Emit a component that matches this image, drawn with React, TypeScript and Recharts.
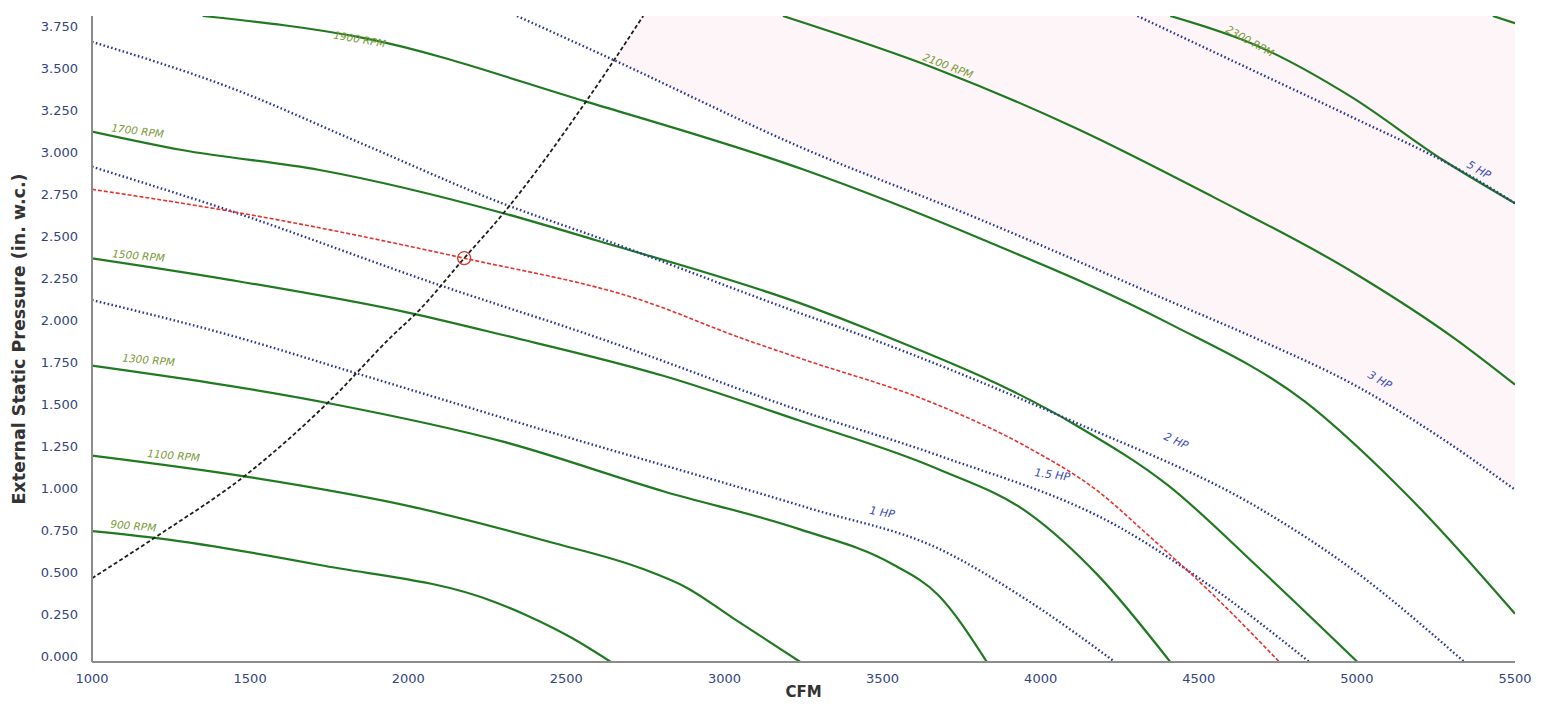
import React from "react";
import { ComposedChart, Line, Area, XAxis, YAxis, ReferenceDot } from "recharts";

type Pt = { cfm: number; esp: number };
const toPts = (rows: number[][]): Pt[] => rows.map(([cfm, esp]) => ({ cfm, esp }));

const cfmTicks = [1000, 1500, 2000, 2500, 3000, 3500, 4000, 4500, 5000, 5500];
const espTicks = [0, 0.25, 0.5, 0.75, 1, 1.25, 1.5, 1.75, 2, 2.25, 2.5, 2.75, 3, 3.25, 3.5, 3.75];

// fan speed curves (cfm, esp)
const rpm900 = toPts([[1000, 0.76], [1211, 0.718], [1720, 0.563], [2271, 0.35], [2372, 0.273], [2518, 0.139], [2641, 0]]);
const rpm1100 = toPts([[1000, 1.198], [1487, 1.076], [2010, 0.902], [2445, 0.698], [2736, 0.544], [2882, 0.43], [3027, 0.255], [3240, 0]]);
const rpm1300 = toPts([[1000, 1.72], [1749, 1.502], [2300, 1.279], [2809, 0.99], [3239, 0.77], [3529, 0.57], [3675, 0.39], [3830, 0]]);
const rpm1500 = toPts([[1000, 2.343], [1430, 2.22], [2010, 2.024], [2300, 1.898], [2809, 1.66], [3239, 1.4], [3675, 1.12], [3965, 0.86], [4183, 0.5], [4410, 0]]);
const rpm1700 = toPts([[1000, 3.079], [1284, 2.972], [1720, 2.856], [2301, 2.605], [2591, 2.45], [3269, 2.063], [3471, 1.92], [4110, 1.376], [4401, 1.028], [4691, 0.544], [5002, 0]]);
const rpm1900 = toPts([[1350, 3.75], [1865, 3.62], [2562, 3.253], [3254, 2.856], [3820, 2.45], [4401, 1.97], [4836, 1.511], [5127, 1.028], [5500, 0.28]]);
const rpm2100 = toPts([[3185, 3.75], [3675, 3.44], [4110, 3.1], [4545, 2.7], [4981, 2.27], [5315, 1.87], [5500, 1.61]]);
const rpm2300 = toPts([[4410, 3.75], [4691, 3.572], [4981, 3.282], [5272, 2.914], [5500, 2.663]]);
const rpm2500 = toPts([[5430, 3.75], [5500, 3.708]]);

// brake horsepower lines
const hp1 = toPts([[1000, 2.101], [1450, 1.89], [1836, 1.676], [2445, 1.337], [3269, 0.892], [3675, 0.66], [3965, 0.35], [4235, 0]]);
const hp15 = toPts([[1000, 2.875], [1429, 2.624], [2097, 2.189], [2591, 1.888], [3239, 1.46], [3675, 1.2], [4255, 0.776], [4546, 0.428], [4850, 0]]);
const hp2 = toPts([[1000, 3.6], [1429, 3.34], [1865, 3.0], [2301, 2.66], [2591, 2.47], [3269, 2.005], [3384, 1.93], [4110, 1.39], [4691, 0.892], [4981, 0.544], [5340, 0]]);
const hp3 = toPts([[2344, 3.75], [2649, 3.495], [3239, 2.99], [3820, 2.56], [4401, 2.1], [4691, 1.87], [5000, 1.6], [5250, 1.32], [5500, 1.0]]);
const hp5 = toPts([[4306, 3.75], [4691, 3.417], [4981, 3.166], [5344, 2.837], [5500, 2.663]]);

// selected fan curve and system curve
const fanCurve = toPts([[1000, 2.744], [1473, 2.605], [2177, 2.344], [2736, 2.101], [3055, 1.879], [3239, 1.763], [3675, 1.492], [3965, 1.24], [4183, 0.989], [4328, 0.756], [4546, 0.389], [4755, 0]]);
const systemCurve = toPts([[1000, 0.486], [1211, 0.737], [1487, 1.086], [1749, 1.511], [1952, 1.898], [2025, 2.024], [2177, 2.344], [2301, 2.605], [2562, 3.253], [2743, 3.75]]);
const operatingPoint = { cfm: 2177, esp: 2.344 };

// shaded zone: above 3 HP, right of the system curve
const zoneLow = [[2649, 3.495], [2700, 3.45], [2743, 3.41], [3239, 2.99], [3820, 2.56], [4401, 2.1], [4691, 1.87], [5000, 1.6], [5250, 1.32], [5500, 1.0]];
const zoneHigh = [3.495, 3.63, 3.75, 3.75, 3.75, 3.75, 3.75, 3.75, 3.75, 3.75];
const zone = zoneLow.map(([cfm, lo], i) => ({ cfm, range: [lo, zoneHigh[i]] }));

const curveLabels = [
  { text: "900 RPM", cfm: 1057, esp: 0.78, angle: 5, kind: "rpm" },
  { text: "1100 RPM", cfm: 1174, esp: 1.19, angle: 5, kind: "rpm" },
  { text: "1300 RPM", cfm: 1095, esp: 1.745, angle: 5, kind: "rpm" },
  { text: "1500 RPM", cfm: 1063, esp: 2.35, angle: 5, kind: "rpm" },
  { text: "1700 RPM", cfm: 1060, esp: 3.08, angle: 7, kind: "rpm" },
  { text: "1900 RPM", cfm: 1762, esp: 3.62, angle: 10, kind: "rpm" },
  { text: "2100 RPM", cfm: 3625, esp: 3.495, angle: 21, kind: "rpm" },
  { text: "2300 RPM", cfm: 4583, esp: 3.66, angle: 29, kind: "rpm" },
  { text: "1 HP", cfm: 3457, esp: 0.86, angle: 10, kind: "hp" },
  { text: "1.5 HP", cfm: 3979, esp: 1.08, angle: 8, kind: "hp" },
  { text: "2 HP", cfm: 4387, esp: 1.295, angle: 25, kind: "hp" },
  { text: "3 HP", cfm: 5032, esp: 1.655, angle: 30, kind: "hp" },
  { text: "5 HP", cfm: 5345, esp: 2.875, angle: 30, kind: "hp" },
];

const rpmCurves = [rpm900, rpm1100, rpm1300, rpm1500, rpm1700, rpm1900, rpm2100, rpm2300, rpm2500];
const hpCurves = [hp1, hp15, hp2, hp3, hp5];

const FONT = "'DejaVu Sans', Verdana, sans-serif";
const GREEN = "#217a21";
const BLUE = "#2c3a96";
const FRAME = "#8c8c8c";
const TICK = "#34457f";

// the original prints its pressure labels a little off the tick positions
const EspTick = (props: any) => {
  const { x, y, payload } = props;
  const shift = -6 + payload.value * 4.3;
  return (
    <text x={x} y={y + shift} dy={4.5} textAnchor="end" fill={TICK} fontSize={13} fontFamily={FONT}>
      {Number(payload.value).toFixed(3)}
    </text>
  );
};

export default function App() {
  return (
    <div style={{ position: "absolute", left: 0, top: 0, width: 1545, height: 706, background: "#fff" }}>
      <ComposedChart width={1545} height={706} margin={{ top: 16, right: 30, bottom: 0, left: 0 }}>
        <XAxis
          dataKey="cfm"
          type="number"
          domain={[1000, 5500]}
          ticks={cfmTicks}
          allowDataOverflow
          height={44}
          tickLine={false}
          tickMargin={6}
          axisLine={{ stroke: FRAME, strokeWidth: 2 }}
          tick={{ fill: TICK, fontSize: 13, fontFamily: FONT }}
          label={{ value: "CFM", position: "insideBottom", offset: 9, style: { fontFamily: FONT, fontWeight: "bold", fontSize: 15, fill: "#333" } }}
        />
        <XAxis xAxisId="top" orientation="top" type="number" domain={[1000, 5500]} height={0} tick={false} tickLine={false} axisLine={{ stroke: FRAME, strokeWidth: 2 }} />
        <YAxis
          type="number"
          domain={[0, 3.75]}
          ticks={espTicks}
          allowDataOverflow
          width={92}
          tickLine={false}
          tickMargin={8}
          axisLine={{ stroke: FRAME, strokeWidth: 2 }}
          tick={<EspTick />}
          label={{
            value: "External Static Pressure (in. w.c.)",
            angle: -90,
            position: "insideLeft",
            offset: 19,
            style: { textAnchor: "middle", fontFamily: FONT, fontWeight: "bold", fontSize: 17.5, fill: "#333" },
          }}
        />
        <YAxis yAxisId="right" orientation="right" type="number" domain={[0, 3.75]} width={0} tick={false} tickLine={false} axisLine={{ stroke: FRAME, strokeWidth: 2 }} />

        <Area data={zone} dataKey="range" type="monotone" stroke="none" fill="#fdf5f8" fillOpacity={1} isAnimationActive={false} />

        {rpmCurves.map((d, i) => (
          <Line key={"rpm" + i} data={d} dataKey="esp" type="monotone" stroke={GREEN} strokeWidth={2.2} dot={false} isAnimationActive={false} />
        ))}
        {hpCurves.map((d, i) => (
          <Line key={"hp" + i} data={d} dataKey="esp" type="monotone" stroke={BLUE} strokeWidth={2.4} strokeDasharray="1.6 2.4" dot={false} isAnimationActive={false} />
        ))}
        <Line data={fanCurve} dataKey="esp" type="monotone" stroke="#e8322b" strokeWidth={1.6} strokeDasharray="4 2" dot={false} isAnimationActive={false} />
        <Line data={systemCurve} dataKey="esp" type="monotone" stroke="#1e1e1e" strokeWidth={1.8} strokeDasharray="4 2.5" dot={false} isAnimationActive={false} />

        <ReferenceDot x={operatingPoint.cfm} y={operatingPoint.esp} r={6.5} fill="none" stroke="#d9362c" strokeWidth={1.3} />

        {curveLabels.map((l) => (
          <ReferenceDot
            key={l.text}
            x={l.cfm}
            y={l.esp}
            r={0}
            shape={(p: any) => (
              <text
                x={p.cx}
                y={p.cy}
                transform={`rotate(${l.angle} ${p.cx} ${p.cy})`}
                fontFamily={FONT}
                fontStyle="italic"
                fontSize={l.kind === "rpm" ? 10.5 : 11}
                fill={l.kind === "rpm" ? "#7a9a38" : "#3a4cb4"}
              >
                {l.text}
              </text>
            )}
          />
        ))}
      </ComposedChart>
    </div>
  );
}
